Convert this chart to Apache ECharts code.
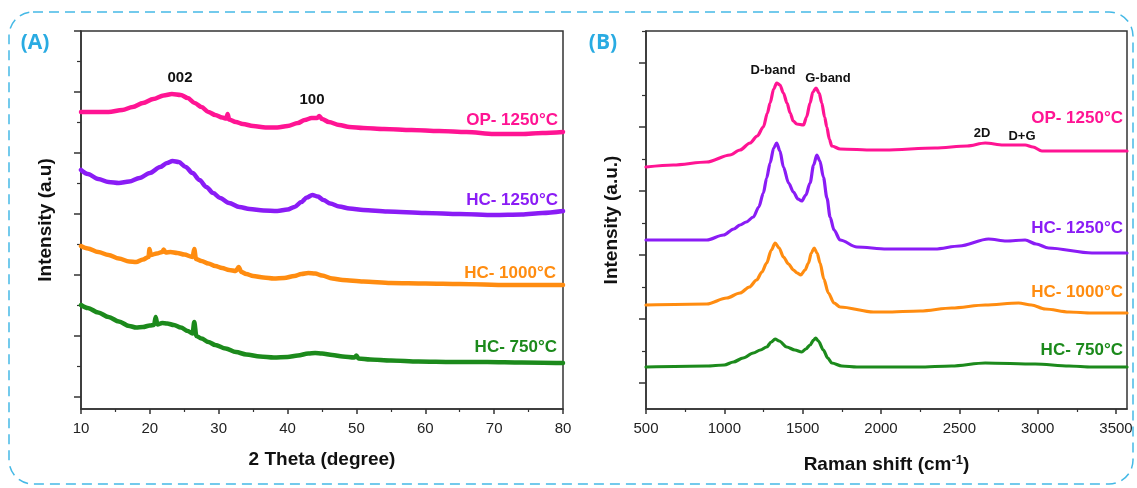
<!DOCTYPE html>
<html>
<head>
<meta charset="utf-8">
<script src="https://cdn.jsdelivr.net/npm/echarts@6/dist/echarts.min.js"></script>
<style>
html,body{margin:0;padding:0;background:#fff;}
#chart{width:1137px;height:488px;}
</style>
</head>
<body>
<div id="chart"></div>
<script>
// ---------- DATA ----------
const seriesNames = ['OP- 1250°C', 'HC- 1250°C', 'HC- 1000°C', 'HC- 750°C'];
const seriesColors = ['#FF1493', '#8A1CF5', '#FF8C10', '#1C8A1C'];

// Panel A: XRD, [2theta, intensity (a.u., stacked offset)]
const xrdOP = [[10,285],[12,285],[14,285],[16,287],[17.5,290],[19,294],[20.5,298],[22,301.5],[23.2,303],[24.5,302],[25.5,299],[26.5,294],[27.5,290],[28.5,285],[29.5,282],[30.5,279.5],[31.1,278.5],[31.3,283],[31.5,277.5],[32.5,275],[33.5,273],[35,271],[36.8,269.5],[38.5,269.5],[40,271],[41.5,274],[42.5,277],[43.5,279],[44.3,279],[44.6,281],[45,278],[46,275],[47.5,272],[49,270],[51,269],[54,268],[58,267],[62,266],[66,265],[70,263],[74,263],[77,264],[80,265]];
const xrdHC1250 = [[10,227],[11,223],[12.5,218],[14,215],[15.5,214],[17,215.5],[18.5,219],[20,224],[21.5,230],[22.5,234],[23.3,236],[24.2,235],[25.2,230],[26.2,224],[27.2,217],[28.2,210],[29.2,204],[30.2,199],[31.5,194],[33,190],[34.5,188],[36.5,186.5],[38.5,186],[40,187.5],[41,190],[42,195],[42.8,199.5],[43.6,202],[44.4,200.5],[45.2,197],[46.2,193.5],[47.5,190.5],[49,188.5],[51,187],[54.5,185.5],[60,184],[65,183],[70,182],[74,182.5],[77,184],[80,186]];
const xrdHC1000 = [[10,151],[11,148.5],[12.5,145],[14,142],[15.5,138.5],[17,135.5],[18,135],[19,137.5],[19.8,140],[19.95,148],[20.15,142],[21,143.5],[21.8,145],[22,147.5],[22.3,144.5],[23,145],[24,144],[25,142.5],[26.2,140],[26.45,148],[26.7,138],[27.5,136],[28.5,133.5],[29.5,131],[30.5,129],[31.5,127],[32.5,126],[32.9,130],[33.3,125],[34,123],[35,121],[36.5,119.5],[38,118.5],[39.5,119],[41,121],[42,123],[43,124],[44,123.5],[45,121.5],[46.5,118.5],[48,117],[51,115.5],[55,114],[60,113.5],[65,113],[72,112],[80,112]];
const xrdHC750 = [[10,92],[11,89],[12.5,84.5],[14,80],[15.5,75.5],[17,71],[18,69.5],[19,70],[20,71.5],[20.6,72],[20.85,80],[21.1,72.5],[21.8,74],[22.5,73.5],[23.5,72],[24.5,69.5],[25.5,66],[26.2,63.5],[26.45,75],[26.75,61],[27.5,58.5],[28.5,55],[29.5,52],[31,48.5],[32.5,45],[34,42.5],[36,40.5],[38,39.5],[40,40],[41.5,41.5],[43,43.5],[44,44],[45,43.5],[46.5,42],[48,40.5],[49.7,39.5],[50,41.5],[50.3,38.5],[52,37.5],[55,36.5],[59,35.5],[64,35],[69,35],[74,34.5],[80,34]];

// Panel B: Raman, [shift cm-1, intensity (a.u., stacked offset)]
const ramanOP = [[500,216],[674,218],[888,221],[1036,228],[1100,233],[1164,240],[1210,247],[1249,256],[1275,270],[1292,280],[1315,294],[1334,300],[1355,298],[1377,290],[1400,280],[1420,270],[1440,262],[1462,259],[1505,258],[1525,266],[1547,280],[1565,291],[1585,295],[1605,290],[1622,280],[1640,266],[1654,256],[1670,244],[1686,237],[1739,234],[1952,233],[2026,233],[2345,235],[2550,237],[2665,240],[2780,238],[2920,238],[2970,236],[3027,232],[3304,232],[3570,232]];
const ramanHC1250 = [[500,143],[700,143],[888,143],[995,148],[1060,154],[1100,158],[1140,161],[1185,166],[1220,176],[1249,190],[1270,205],[1292,220],[1315,235],[1334,240],[1355,232],[1377,216],[1410,200],[1441,191],[1470,184],[1494,182],[1520,188],[1547,200],[1570,218],[1590,228],[1610,222],[1632,206],[1655,185],[1675,166],[1700,153],[1739,143],[1846,136],[2037,134],[2345,134],[2500,137],[2686,144],[2800,142],[2920,143],[2990,139],[3069,135],[3346,130],[3570,130]];
const ramanHC1000 = [[500,78],[888,79],[1015,85],[1100,90],[1160,96],[1206,103],[1240,111],[1270,120],[1300,133],[1324,140],[1350,135],[1377,126],[1410,119],[1441,113],[1465,110],[1488,108],[1515,113],[1537,120],[1555,130],[1573,135],[1592,130],[1611,120],[1635,104],[1664,90],[1700,80],[1739,76],[1952,71],[2026,71],[2250,72],[2452,75],[2665,78],[2878,80],[2960,78],[3048,74],[3200,71],[3346,70],[3570,70]];
const ramanHC750 = [[500,16],[888,17],[1000,18],[1058,21],[1120,25],[1185,30],[1230,33],[1270,36],[1300,41],[1324,44],[1350,42],[1398,36],[1450,33],[1494,31],[1520,34],[1547,38],[1570,43],[1583,45],[1600,42],[1632,33],[1660,25],[1686,20],[1750,17],[1846,16],[2037,16],[2239,16],[2450,17],[2665,20],[2984,19],[3200,17],[3346,16],[3570,16]];

// Axis ranges / ticks
const xrdXRange = [10, 80];
const xrdXStep = 10;
const xrdYRange = [-12, 366];
const xrdYMajor = [0, 61, 122, 183, 244, 305, 366];
const xrdYMinor = [30.5, 91.5, 152.5, 213.5, 274.5, 335.5];

const ramanXRange = [500, 3570];
const ramanXMajor = [500, 1000, 1500, 2000, 2500, 3000, 3500];
const ramanXMinor = [750, 1250, 1750, 2250, 2750, 3250];
const ramanYRange = [-26, 352];
const ramanYMajor = [0, 64, 128, 192, 256, 320];
const ramanYMinor = [32, 96, 160, 224, 288, 352];

// Annotations
const xrdPeakLabels = ['002', '100'];
const ramanPeakLabels = ['D-band', 'G-band', '2D', 'D+G'];
const panelLabels = ['(A)', '(B)'];

// ---------- CHART ----------
const FONT = '"Liberation Sans", Arial, sans-serif';
const axisColor = '#333';
const chart = echarts.init(document.getElementById('chart'));

function lineSeries(data, idx, xi, yi, w) {
  return {
    type: 'line', data: data, xAxisIndex: xi, yAxisIndex: yi,
    showSymbol: false, symbol: 'none', smooth: 0.3, smoothMonotone: 'x',
    lineStyle: { color: seriesColors[idx], width: w, join: 'round', cap: 'round' },
    itemStyle: { color: seriesColors[idx] },
    silent: true, z: 3
  };
}

const baseX = {
  type: 'value', splitLine: { show: false }, position: 'bottom',
  axisLine: { show: true, onZero: false, lineStyle: { color: axisColor, width: 1.5 } },
  axisLabel: { fontSize: 15, color: '#222', fontFamily: FONT, margin: 12, formatter: function (v) { return String(v); } },
  nameLocation: 'middle',
  nameTextStyle: { fontSize: 19, fontWeight: 'bold', color: '#111', fontFamily: FONT }
};
const baseY = {
  type: 'value', splitLine: { show: false }, position: 'left',
  axisLine: { show: true, onZero: false, lineStyle: { color: axisColor, width: 1.5 } },
  axisLabel: { show: false },
  nameLocation: 'middle',
  nameTextStyle: { fontSize: 19, fontWeight: 'bold', color: '#111', fontFamily: FONT }
};

function txt(text, x, y, color, size, align, family) {
  return {
    type: 'text', silent: true, z: 10,
    style: {
      text: text, x: x, y: y, fill: color,
      font: 'bold ' + size + 'px ' + (family || FONT),
      align: align || 'center', verticalAlign: 'middle',
      textAlign: align || 'center', textVerticalAlign: 'middle'
    }
  };
}

const option = {
  backgroundColor: '#ffffff',
  animation: false,
  grid: [
    { left: 81, top: 31, width: 482, height: 378, show: true, borderColor: axisColor, borderWidth: 1.5, backgroundColor: 'transparent' },
    { left: 646, top: 31, width: 481, height: 378, show: true, borderColor: axisColor, borderWidth: 1.5, backgroundColor: 'transparent' }
  ],
  xAxis: [
    Object.assign({}, baseX, {
      gridIndex: 0, min: xrdXRange[0], max: xrdXRange[1], interval: xrdXStep,
      axisTick: { show: true, length: 5, lineStyle: { color: axisColor, width: 1.5 } },
      minorTick: { show: true, splitNumber: 2, length: 3, lineStyle: { color: axisColor, width: 1.2 } },
      name: '2 Theta (degree)', nameGap: 41
    }),
    Object.assign({}, baseX, {
      gridIndex: 1, min: ramanXRange[0], max: ramanXRange[1],
      axisTick: { show: true, length: 5, customValues: ramanXMajor, lineStyle: { color: axisColor, width: 1.5 } },
      axisLabel: Object.assign({}, baseX.axisLabel, { customValues: ramanXMajor }),
      name: 'Raman shift (cm{sup|-1})', nameGap: 45,
      nameTextStyle: Object.assign({}, baseX.nameTextStyle, {
        rich: { sup: { fontSize: 13, fontWeight: 'bold', color: '#111', fontFamily: FONT, verticalAlign: 'top', lineHeight: 22 } }
      })
    }),
    Object.assign({}, baseX, {
      gridIndex: 1, min: ramanXRange[0], max: ramanXRange[1],
      axisLine: { show: false, onZero: false },
      axisTick: { show: true, length: 3, customValues: ramanXMinor, lineStyle: { color: axisColor, width: 1.2 } },
      axisLabel: { show: false }
    })
  ],
  yAxis: [
    Object.assign({}, baseY, {
      gridIndex: 0, min: xrdYRange[0], max: xrdYRange[1],
      axisTick: { show: true, length: 7, customValues: xrdYMajor, lineStyle: { color: axisColor, width: 1.5 } },
      name: 'Intensity (a.u)', nameGap: 26
    }),
    Object.assign({}, baseY, {
      gridIndex: 0, min: xrdYRange[0], max: xrdYRange[1],
      axisLine: { show: false, onZero: false },
      axisTick: { show: true, length: 4, customValues: xrdYMinor, lineStyle: { color: axisColor, width: 1.2 } }
    }),
    Object.assign({}, baseY, {
      gridIndex: 1, min: ramanYRange[0], max: ramanYRange[1],
      axisTick: { show: true, length: 7, customValues: ramanYMajor, lineStyle: { color: axisColor, width: 1.5 } },
      name: 'Intensity (a.u.)', nameGap: 25
    }),
    Object.assign({}, baseY, {
      gridIndex: 1, min: ramanYRange[0], max: ramanYRange[1],
      axisLine: { show: false, onZero: false },
      axisTick: { show: true, length: 4, customValues: ramanYMinor, lineStyle: { color: axisColor, width: 1.2 } }
    })
  ],
  series: [
    lineSeries(xrdOP, 0, 0, 0, 4.5),
    lineSeries(xrdHC1250, 1, 0, 0, 4.5),
    lineSeries(xrdHC1000, 2, 0, 0, 4.5),
    lineSeries(xrdHC750, 3, 0, 0, 4.5),
    lineSeries(ramanOP, 0, 1, 2, 3.2),
    lineSeries(ramanHC1250, 1, 1, 2, 3.2),
    lineSeries(ramanHC1000, 2, 1, 2, 3.2),
    lineSeries(ramanHC750, 3, 1, 2, 3.2)
  ],
  graphic: [
    { type: 'rect', silent: true, z: 0,
      shape: { x: 9, y: 12, width: 1124, height: 472, r: 24 },
      style: { fill: 'none', stroke: '#45B9E6', lineWidth: 1.5, lineDash: [10, 6] } },
    txt(panelLabels[0], 35, 43, '#29ABE2', 21, 'center', '"Open Sans", sans-serif'),
    txt(panelLabels[1], 603, 43, '#29ABE2', 21, 'center', '"Open Sans", sans-serif'),
    txt(xrdPeakLabels[0], 180, 78, '#111', 15),
    txt(xrdPeakLabels[1], 312, 100, '#111', 15),
    txt(ramanPeakLabels[0], 773, 70, '#111', 13),
    txt(ramanPeakLabels[1], 828, 78, '#111', 13),
    txt(ramanPeakLabels[2], 982, 133, '#111', 13),
    txt(ramanPeakLabels[3], 1022, 136, '#111', 13),
    txt(seriesNames[0], 558, 120, seriesColors[0], 17, 'right'),
    txt(seriesNames[1], 558, 200, seriesColors[1], 17, 'right'),
    txt(seriesNames[2], 556, 273, seriesColors[2], 17, 'right'),
    txt(seriesNames[3], 557, 347, seriesColors[3], 17, 'right'),
    txt(seriesNames[0], 1123, 118, seriesColors[0], 17, 'right'),
    txt(seriesNames[1], 1123, 228, seriesColors[1], 17, 'right'),
    txt(seriesNames[2], 1123, 292, seriesColors[2], 17, 'right'),
    txt(seriesNames[3], 1123, 350, seriesColors[3], 17, 'right')
  ]
};
chart.setOption(option);
</script>
</body>
</html>
